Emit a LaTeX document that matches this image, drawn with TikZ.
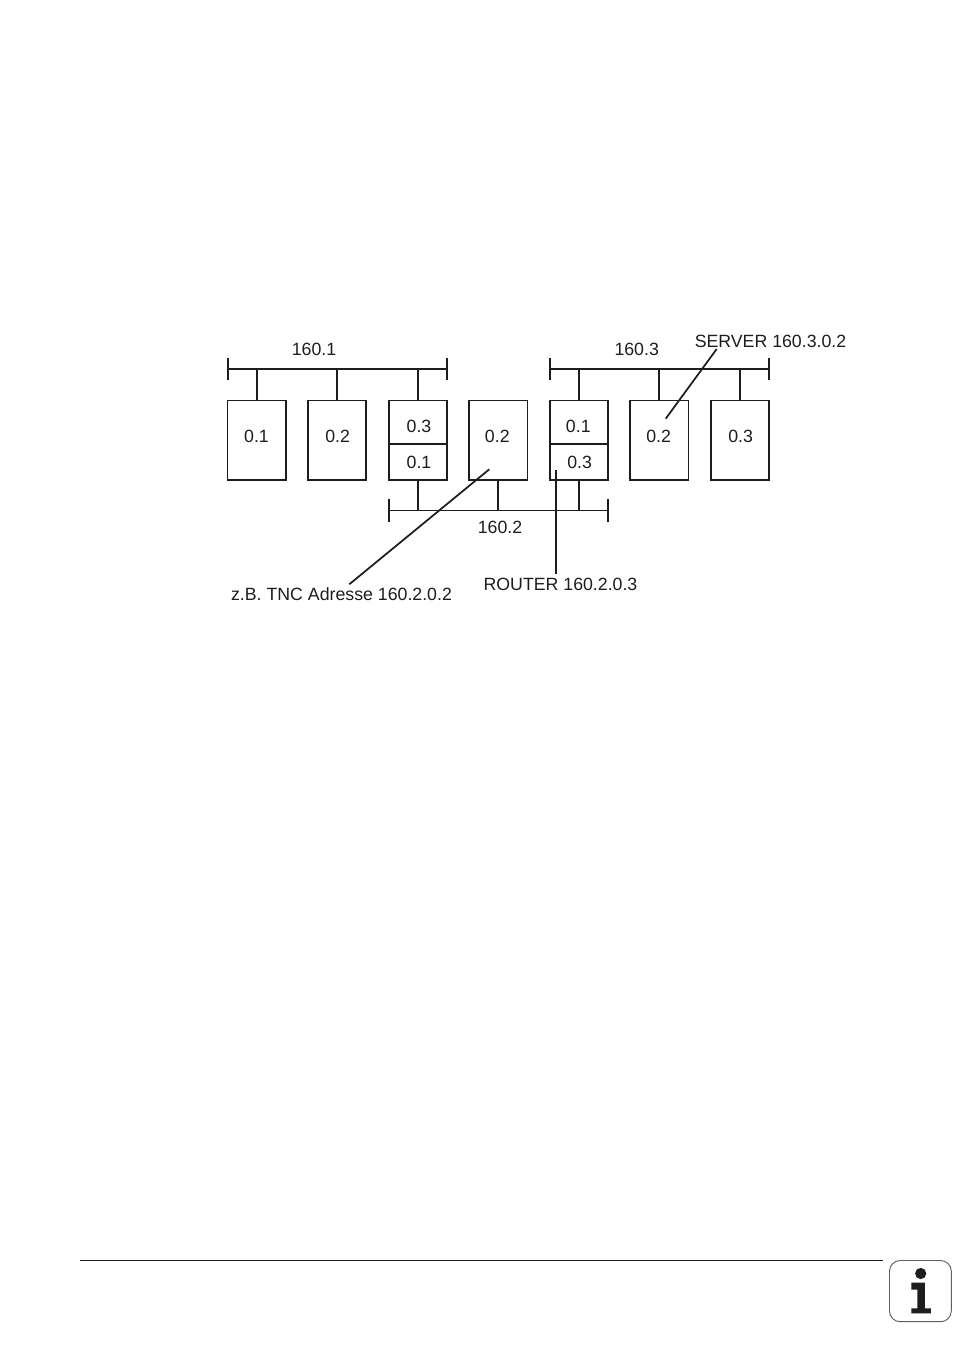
\documentclass[tikz,border=0pt]{standalone}
\usepackage{fontspec}
\setmainfont{Liberation Sans}
\definecolor{ink}{HTML}{1E1C1D}
\tikzset{
  x=0.75pt,y=-0.75pt,
  netbox/.style={draw=ink,line width=1.4pt,rectangle,inner sep=0,outer sep=0,minimum width=43.6pt,anchor=north west},
  tall/.style={netbox,minimum height=59.3pt},
  lbl/.style={inner sep=0,outer sep=0,text=ink,font=\fontsize{13.3pt}{15pt}\selectfont},
  wire/.style={draw=ink,line width=1.4pt},
  lead/.style={draw=ink,line width=1.3pt},
}
\begin{document}
\begin{tikzpicture}
\useasboundingbox (0,0) rectangle (954,1346);
% boxes
\node[tall] (b1) at (227.5,400.5) {};
\node[tall] (b2) at (308,400.5) {};
\node[netbox,minimum height=32.6pt] (b3a) at (388.7,400.5) {};
\node[netbox,minimum height=26.7pt] (b3b) at (388.7,444) {};
\node[tall] (b4) at (469.3,400.5) {};
\node[netbox,minimum height=32.6pt] (b5a) at (549.7,400.5) {};
\node[netbox,minimum height=26.7pt] (b5b) at (549.7,444) {};
\node[tall] (b6) at (630.3,400.5) {};
\node[tall] (b7) at (710.7,400.5) {};
% buses
\coordinate (n1l) at (228,369);
\coordinate (n1r) at (447,369);
\coordinate (n2l) at (389,510.5);
\coordinate (n2r) at (608,510.5);
\coordinate (n3l) at (550,369);
\coordinate (n3r) at (769,369);
\foreach \p in {n1,n2,n3}{
  \draw[wire] (\p l) -- (\p r);
  \draw[wire] ([yshift=8.5pt]\p l) -- ([yshift=-8.5pt]\p l);
  \draw[wire] ([yshift=8.5pt]\p r) -- ([yshift=-8.5pt]\p r);
}
\draw[wire] (b1.north) -- (b1.north |- n1l);
\draw[wire] (b2.north) -- (b2.north |- n1l);
\draw[wire] (b3a.north) -- (b3a.north |- n1l);
\draw[wire] (b3b.south) -- (b3b.south |- n2l);
\draw[wire] (b4.south) -- (b4.south |- n2l);
\draw[wire] (b5b.south) -- (b5b.south |- n2l);
\draw[wire] (b5a.north) -- (b5a.north |- n3l);
\draw[wire] (b6.north) -- (b6.north |- n3l);
\draw[wire] (b7.north) -- (b7.north |- n3l);
% labels
\node[lbl] (t1) at (314,349.5) {160.1};
\node[lbl] (t2) at (500,527.5) {160.2};
\node[lbl] (t3) at (636.7,349.5) {160.3};
\node[lbl] (l1) at (256.5,436) {0.1};
\node[lbl] (l2) at (337.7,436) {0.2};
\node[lbl] (l3) at (419,426) {0.3};
\node[lbl] (l4) at (419,462) {0.1};
\node[lbl] (l5) at (497.3,436) {0.2};
\node[lbl] (l6) at (578.3,426.3) {0.1};
\node[lbl] (l7) at (579.7,462.3) {0.3};
\node[lbl] (l8) at (658.7,436) {0.2};
\node[lbl] (l9) at (740.7,436) {0.3};
\node[lbl] (server) at (770.5,341) {SERVER 160.3.0.2};
\node[lbl] (router) at (560.5,584.5) {ROUTER 160.2.0.3};
\node[lbl] (tnc) at (341.5,594) {z.B. TNC Adresse 160.2.0.2};
% leaders
\coordinate (pserver) at (665.7,418.7);
\coordinate (prouter) at (555.7,470.3);
\coordinate (ptnc) at (489.3,469.3);
\coordinate (sserver) at (716.7,349);
\coordinate (srouter) at (555.7,574);
\coordinate (stnc) at (349.3,584.3);
\draw[lead] (sserver) -- (pserver);
\draw[lead] (srouter) -- (prouter);
\draw[lead] (stnc) -- (ptnc);
% footer
\coordinate (fl) at (80,1260.5);
\coordinate (fr) at (883,1260.5);
\draw[draw=ink,line width=0.8pt] (fl) -- (fr);
% info icon
\draw[draw=ink!70,line width=0.7pt,fill=white,rounded corners=8pt] (889.5,1260.5) rectangle (951.3,1321.7);
\fill[ink] (920.7,1273.5) circle[radius=4.2pt];
\fill[ink] (911.3,1282.7) -- (924.8,1282.7) -- (924.8,1308.3) -- (930.8,1308.3) -- (930.8,1313.3) -- (911.3,1313.3) -- (911.3,1308.3) -- (917.3,1308.3) -- (917.3,1289.5) -- (911.3,1289.5) -- cycle;
\end{tikzpicture}
\end{document}
